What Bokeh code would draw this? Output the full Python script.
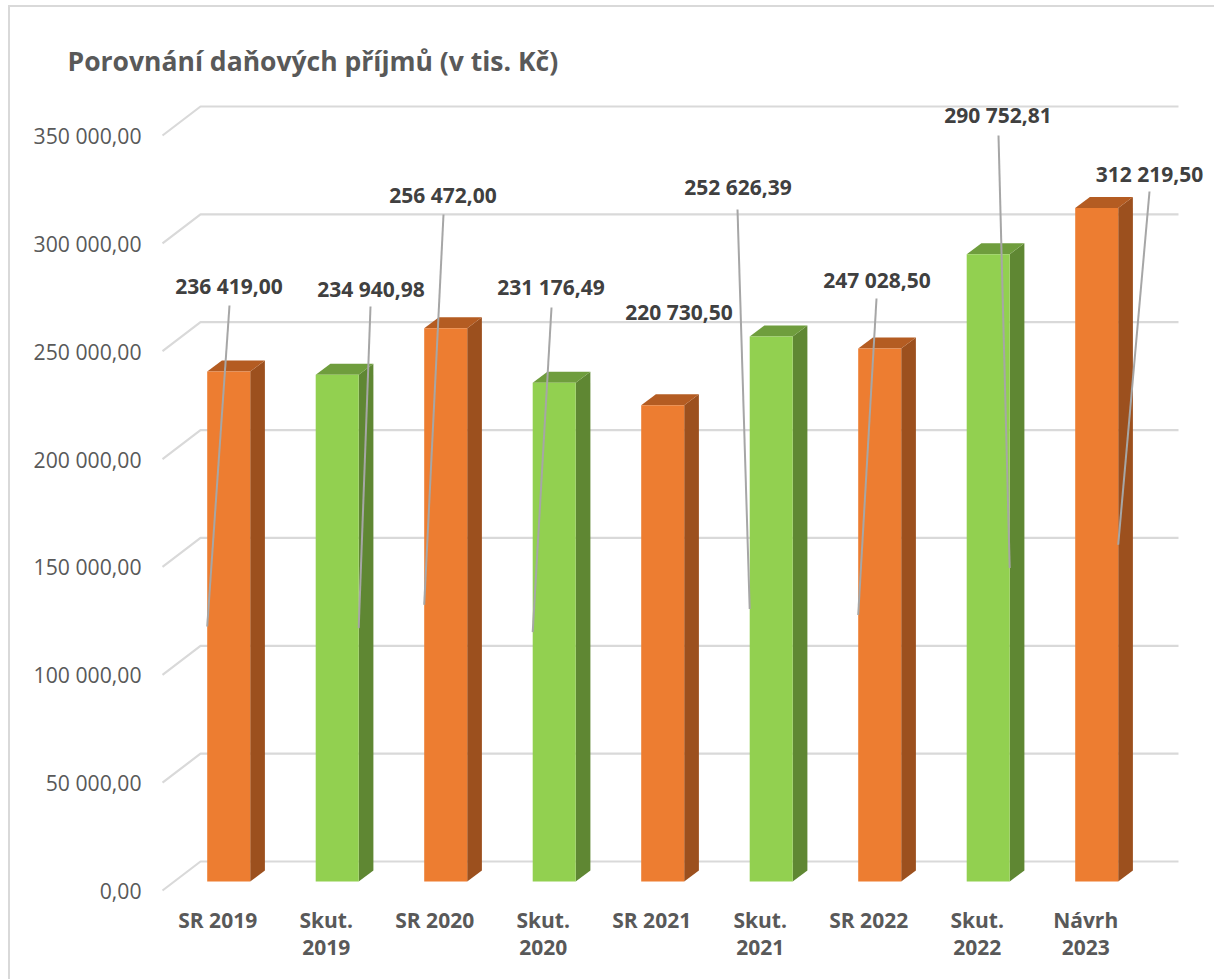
from bokeh.plotting import figure
from bokeh.embed import file_html
from bokeh.resources import INLINE
from bokeh.models import Range1d, LinearAxis, FixedTicker, ColumnDataSource, InlineStyleSheet
from bokeh.core.properties import value

categories = ["SR 2019", "Skut.\n2019", "SR 2020", "Skut.\n2020", "SR 2021",
              "Skut.\n2021", "SR 2022", "Skut.\n2022", "Návrh\n2023"]
values = [236419.00, 234940.98, 256472.00, 231176.49, 220730.50,
          252626.39, 247028.50, 290752.81, 312219.50]
value_labels = ["236 419,00", "234 940,98", "256 472,00", "231 176,49", "220 730,50",
                "252 626,39", "247 028,50", "290 752,81", "312 219,50"]
kinds = ["SR", "Skut", "SR", "Skut", "SR", "Skut", "SR", "Skut", "SR"]
y_ticks = [0, 50000, 100000, 150000, 200000, 250000, 300000, 350000]
y_tick_labels = ["0,00", "50 000,00", "100 000,00", "150 000,00", "200 000,00",
                 "250 000,00", "300 000,00", "350 000,00"]
title = "Porovnání daňových příjmů (v tis. Kč)"

# ---- layout (page pixels) ----
FIG_W, FIG_H = 1214, 979
FR_L, FR_R, FR_T, FR_B = 150, 1214, 85, 900      # frame on page
Y0_PAGE = 890        # value 0 on the front plane
PX_PER_UNIT = 755 / 350000
X0_PAGE = 228.2      # centre of first bar
PX_PER_CAT = 108.5
xd = 1 / PX_PER_CAT  # one pixel in x data units
yd = 1 / PX_PER_UNIT # one pixel in y data units
page_x = lambda X: (X - X0_PAGE) * xd
page_y = lambda Y: (Y0_PAGE - Y) * yd

BAR_W = 43 * xd
BAR_BASE = 9 * yd     # bars stand 9 px up from the front plane
D_X, D_Y = 14.7 * xd, 11 * yd   # bar depth
GRID_DX, GRID_DY = 38 * xd, 29 * yd
GRID_RIGHT = page_x(1178)
GRID_LEFT = page_x(162)

FRONT = {"SR": "#ED7D31", "Skut": "#92D050"}
SIDE = {"SR": "#9C501E", "Skut": "#5F8733"}
TOP = {"SR": "#B45C22", "Skut": "#6F9D3D"}

# data-label placement: centre on page, and which bar edge the leader meets
label_pos = [(228.5, 285.5), (370.5, 288.5), (442.5, 194.5), (550.5, 286.5), (678.5, 311.5),
             (737.5, 186.5), (876.5, 279.5), (997.5, 114.5), (1149, 173.5)]
leader_top = [(229, 305), (370, 306), (443, 214), (551, 307), None,
              (737, 209), (876, 298), (998, 135), (1149, 191)]
leader_edge = [-1, 1, -1, -1, 0, -1, -1, 1, 1]

border_css = InlineStyleSheet(css="""
:host { position: relative; }
:host::after { content: ""; position: absolute; left: 8px; top: 5px; right: 0; bottom: 0;
               border-style: solid; border-color: #D9D9D9; border-width: 2px 0 0 2px;
               pointer-events: none; }
""")

p = figure(width=FIG_W, height=FIG_H, output_backend="svg", toolbar_location=None,
           x_range=Range1d(page_x(FR_L), page_x(FR_R)),
           y_range=Range1d(page_y(FR_B), page_y(FR_T)),
           min_border_left=FR_L, min_border_right=FIG_W - FR_R,
           min_border_top=FR_T, min_border_bottom=FIG_H - FR_B,
           x_axis_type=None, y_axis_type=None,
           stylesheets=[border_css])
p.outline_line_color = None
p.grid.visible = False
p.background_fill_color = "white"
p.border_fill_color = "white"

# title
p.title.text = title
p.title.text_font = "Open Sans"
p.title.text_font_style = "bold"
p.title.text_font_size = "26.5px"
p.title.text_color = "#595959"
p.title.align = "left"
p.title.offset = 67 - FR_L
p.title.standoff = 13

# y axis
yaxis = LinearAxis(ticker=FixedTicker(ticks=y_ticks),
                   major_label_overrides=dict(zip(y_ticks, y_tick_labels)))
yaxis.axis_line_color = None
yaxis.major_tick_line_color = None
yaxis.minor_tick_line_color = None
yaxis.major_tick_out = 0
yaxis.major_label_standoff = 9
yaxis.major_label_text_font = "Open Sans"
yaxis.major_label_text_font_size = "21.2px"
yaxis.major_label_text_color = "#595959"
p.add_layout(yaxis, "left")

# x axis (labels sit 11 px left of the bars)
shift = 11 * xd
p.extra_x_ranges["labels"] = Range1d(page_x(FR_L) + shift, page_x(FR_R) + shift)
idx = list(range(len(categories)))
xaxis = LinearAxis(x_range_name="labels", ticker=FixedTicker(ticks=idx),
                   major_label_overrides=dict(zip(idx, categories)))
xaxis.axis_line_color = None
xaxis.major_tick_line_color = None
xaxis.minor_tick_line_color = None
xaxis.major_tick_out = 0
xaxis.major_label_standoff = 5
xaxis.major_label_text_font = "Open Sans"
xaxis.major_label_text_font_style = "bold"
xaxis.major_label_text_font_size = "21px"
xaxis.major_label_text_color = "#595959"
xaxis.major_label_text_line_height = 0.98
p.add_layout(xaxis, "below")

# gridlines: back wall + slanted side wall
gx, gy = [], []
for t in y_ticks:
    gx.append([GRID_LEFT, GRID_LEFT + GRID_DX, GRID_RIGHT])
    gy.append([t, t + GRID_DY, t + GRID_DY])
p.multi_line(gx, gy, line_color="#D9D9D9", line_width=2.2)

# bars
top_v = [v + BAR_BASE for v in values]
fronts = ColumnDataSource(dict(x=idx, top=top_v, bottom=[BAR_BASE] * len(idx),
                               color=[FRONT[k] for k in kinds]))
side_x, side_y, side_c, cap_x, cap_y, cap_c = [], [], [], [], [], []
for i, (tv, k) in enumerate(zip(top_v, kinds)):
    l, r = i - BAR_W / 2, i + BAR_W / 2
    side_x.append([r, r + D_X, r + D_X, r])
    side_y.append([BAR_BASE, BAR_BASE + D_Y, tv + D_Y, tv])
    side_c.append(SIDE[k])
    cap_x.append([l, r, r + D_X, l + D_X])
    cap_y.append([tv, tv, tv + D_Y, tv + D_Y])
    cap_c.append(TOP[k])
p.patches(side_x, side_y, fill_color=side_c, line_color=None)
p.patches(cap_x, cap_y, fill_color=cap_c, line_color=None)
p.vbar(x="x", width=BAR_W, top="top", bottom="bottom", fill_color="color",
       line_color=None, source=fronts)

# leader lines: from the label to the middle of the bar's edge
lx, ly = [], []
for i, (v, lt, e) in enumerate(zip(values, leader_top, leader_edge)):
    if lt is None:
        continue
    lx.append([page_x(lt[0]), i + e * BAR_W / 2])
    ly.append([page_y(lt[1]), BAR_BASE + v / 2])
p.multi_line(lx, ly, line_color="#A6A6A6", line_width=2)

# data labels
p.text(x=[page_x(a) for a, _ in label_pos], y=[page_y(b) for _, b in label_pos],
       text=value_labels, text_font=value("Open Sans"), text_font_style="bold",
       text_font_size="21px", text_color="#404040",
       text_align="center", text_baseline="middle")

open("out.html", "w").write(file_html(p, INLINE))
